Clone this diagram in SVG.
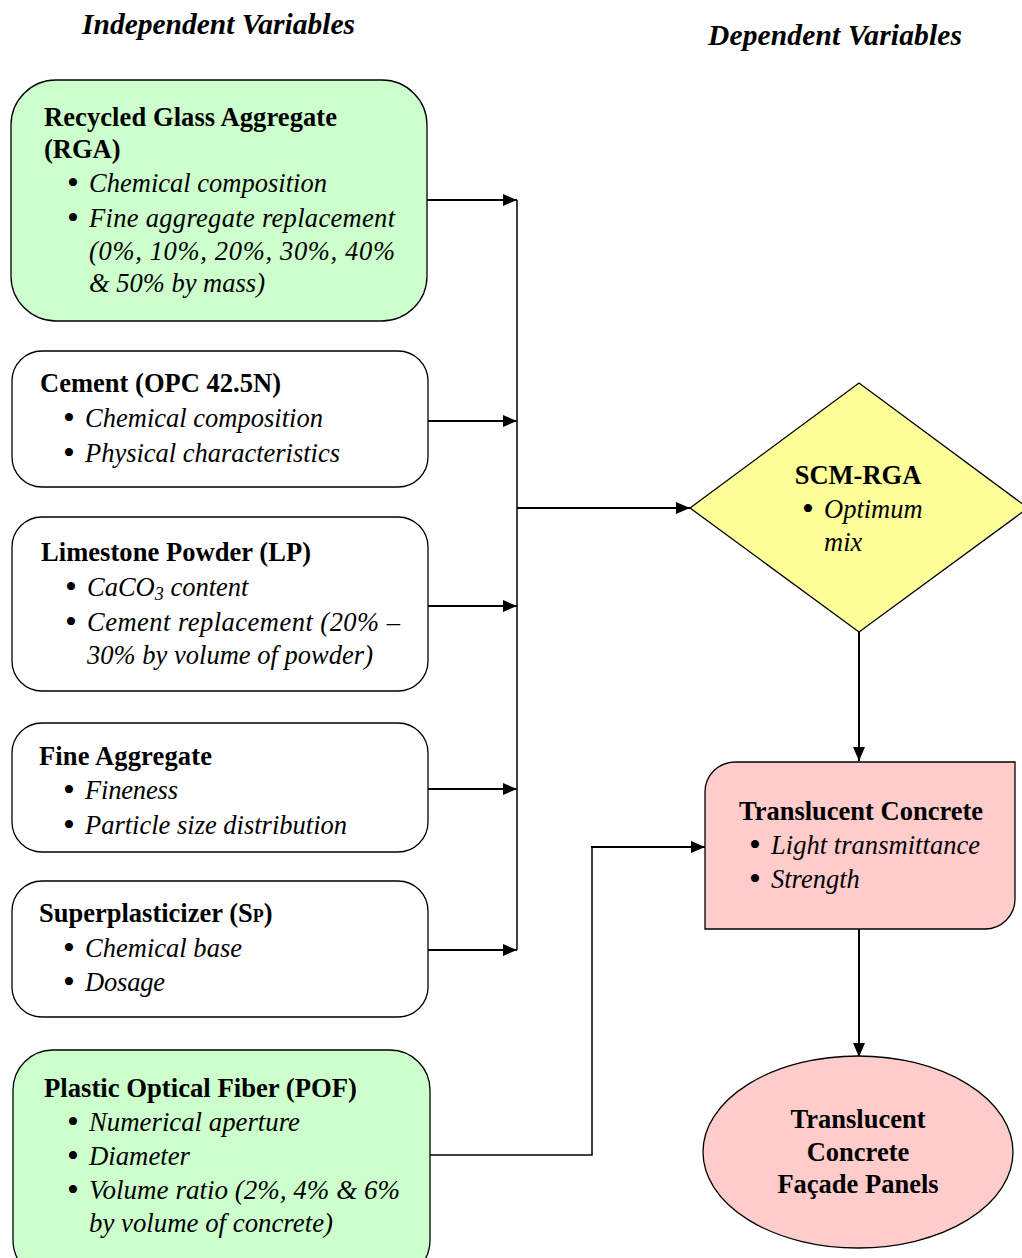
<svg xmlns="http://www.w3.org/2000/svg" width="1022" height="1258" viewBox="0 0 1022 1258">
<style>
text{font-family:"Liberation Serif","Times New Roman",serif;font-size:26.5px;fill:#000}
.h{font-weight:bold;font-style:italic;font-size:29.5px}
.b{font-weight:bold}
.i{font-style:italic}
.bu{font-size:34px;font-style:normal}
.box{stroke:#000;stroke-width:1.3}
.g{fill:#ccffcc}
.w{fill:#fff}
.ln{stroke:#000;stroke-width:2;fill:none}
.ln1{stroke:#000;stroke-width:1.5;fill:none}
</style>
<defs>
<marker id="ah" markerWidth="14" markerHeight="12" refX="14" refY="6" orient="auto" markerUnits="userSpaceOnUse">
<path d="M0,0 L14,6 L0,12 Z" fill="#000"/>
</marker>
</defs>
<text class="h" x="82" y="34" textLength="273">Independent Variables</text>
<text class="h" x="708" y="45" textLength="254">Dependent Variables</text>

<g id="connectors">
<line class="ln" x1="427" y1="200" x2="517" y2="200" marker-end="url(#ah)"/>
<line class="ln" x1="428" y1="421" x2="517" y2="421" marker-end="url(#ah)"/>
<line class="ln" x1="428" y1="606" x2="517" y2="606" marker-end="url(#ah)"/>
<line class="ln" x1="428" y1="789" x2="517" y2="789" marker-end="url(#ah)"/>
<line class="ln" x1="428" y1="950" x2="517" y2="950" marker-end="url(#ah)"/>
<line class="ln1" x1="517" y1="200" x2="517" y2="950"/>
<line class="ln" x1="517" y1="508" x2="690" y2="508" marker-end="url(#ah)"/>
<line class="ln" x1="859" y1="632" x2="859" y2="761" marker-end="url(#ah)"/>
<polyline class="ln1" points="430,1155 592,1155 592,847 598,847"/>
<line class="ln" x1="591" y1="847" x2="705" y2="847" marker-end="url(#ah)"/>
<line class="ln" x1="859" y1="929" x2="859" y2="1057" marker-end="url(#ah)"/>
</g>

<g id="rga">
<rect class="box g" x="11" y="80" width="416" height="241" rx="45"/>
<text class="b" x="44" y="126" textLength="293">Recycled Glass Aggregate</text>
<text class="b" x="44" y="158">(RGA)</text>
<text class="i" y="192"><tspan class="bu" x="67" dy="2">•</tspan><tspan x="89" dy="-2" textLength="238">Chemical composition</tspan></text>
<text class="i" y="227"><tspan class="bu" x="67" dy="2">•</tspan><tspan x="89" dy="-2" textLength="306">Fine aggregate replacement</tspan></text>
<text class="i" x="89" y="260" textLength="306">(0%, 10%, 20%, 30%, 40%</text>
<text class="i" x="89" y="292" textLength="176">&amp; 50% by mass)</text>
</g>

<g id="cement">
<rect class="box w" x="12" y="351" width="416" height="136" rx="30"/>
<text class="b" x="40" y="392" textLength="241">Cement (OPC 42.5N)</text>
<text class="i" y="427"><tspan class="bu" x="63" dy="2">•</tspan><tspan x="85" dy="-2" textLength="238">Chemical composition</tspan></text>
<text class="i" y="462"><tspan class="bu" x="63" dy="2">•</tspan><tspan x="85" dy="-2" textLength="255">Physical characteristics</tspan></text>
</g>

<g id="lp">
<rect class="box w" x="12" y="517" width="416" height="174" rx="30"/>
<text class="b" x="41" y="561" textLength="270">Limestone Powder (LP)</text>
<text class="i" y="596"><tspan class="bu" x="65" dy="2">•</tspan><tspan x="87" dy="-2">CaCO</tspan><tspan font-size="18" dy="4">3</tspan><tspan dy="-4"> content</tspan></text>
<text class="i" y="631"><tspan class="bu" x="65" dy="2">•</tspan><tspan x="87" dy="-2" textLength="313">Cement replacement (20% –</tspan></text>
<text class="i" x="87" y="664" textLength="286">30% by volume of powder)</text>
</g>

<g id="fa">
<rect class="box w" x="12" y="723" width="416" height="129" rx="30"/>
<text class="b" x="39" y="765" textLength="173">Fine Aggregate</text>
<text class="i" y="799"><tspan class="bu" x="63" dy="2">•</tspan><tspan x="85" dy="-2" textLength="93">Fineness</tspan></text>
<text class="i" y="834"><tspan class="bu" x="63" dy="2">•</tspan><tspan x="85" dy="-2" textLength="262">Particle size distribution</tspan></text>
</g>

<g id="sp">
<rect class="box w" x="12" y="881" width="416" height="136" rx="30"/>
<text class="b" x="39" y="922">Superplasticizer (S<tspan font-size="18">P</tspan>)</text>
<text class="i" y="957"><tspan class="bu" x="63" dy="2">•</tspan><tspan x="85" dy="-2" textLength="157">Chemical base</tspan></text>
<text class="i" y="991"><tspan class="bu" x="63" dy="2">•</tspan><tspan x="85" dy="-2" textLength="80">Dosage</tspan></text>
</g>

<g id="pof">
<rect class="box g" x="13" y="1050" width="417" height="230" rx="40"/>
<text class="b" x="44" y="1097" textLength="313" lengthAdjust="spacingAndGlyphs">Plastic Optical Fiber (POF)</text>
<text class="i" y="1131"><tspan class="bu" x="67" dy="2">•</tspan><tspan x="89" dy="-2" textLength="211" lengthAdjust="spacingAndGlyphs">Numerical aperture</tspan></text>
<text class="i" y="1165"><tspan class="bu" x="67" dy="2">•</tspan><tspan x="89" dy="-2" textLength="101" lengthAdjust="spacingAndGlyphs">Diameter</tspan></text>
<text class="i" y="1199"><tspan class="bu" x="67" dy="2">•</tspan><tspan x="89" dy="-2" textLength="311" lengthAdjust="spacingAndGlyphs">Volume ratio (2%, 4% &amp; 6%</tspan></text>
<text class="i" x="89" y="1232" textLength="244" lengthAdjust="spacingAndGlyphs">by volume of concrete)</text>
</g>

<g id="scm">
<polygon class="box" fill="#ffff99" points="690,508 859,383 1028,508 859,632"/>
<text class="b" x="858" y="484" text-anchor="middle">SCM-RGA</text>
<text class="i" y="518"><tspan class="bu" x="802" dy="2">•</tspan><tspan x="824" dy="-2">Optimum</tspan></text>
<text class="i" x="824" y="551">mix</text>
</g>

<g id="tc">
<path class="box" fill="#ffcccc" d="M735,762 H1015 V899 A30,30 0 0 1 985,929 H705 V792 A30,30 0 0 1 735,762 Z"/>
<text class="b" x="861" y="820" text-anchor="middle">Translucent Concrete</text>
<text class="i" y="854"><tspan class="bu" x="749" dy="2">•</tspan><tspan x="771" dy="-2" textLength="209">Light transmittance</tspan></text>
<text class="i" y="888"><tspan class="bu" x="749" dy="2">•</tspan><tspan x="771" dy="-2">Strength</tspan></text>
</g>

<g id="panels">
<ellipse class="box" fill="#ffcccc" cx="858" cy="1152" rx="155" ry="96"/>
<text class="b" x="858" y="1128" text-anchor="middle">Translucent</text>
<text class="b" x="858" y="1161" text-anchor="middle">Concrete</text>
<text class="b" x="858" y="1193" text-anchor="middle">Façade Panels</text>
</g>
</svg>
